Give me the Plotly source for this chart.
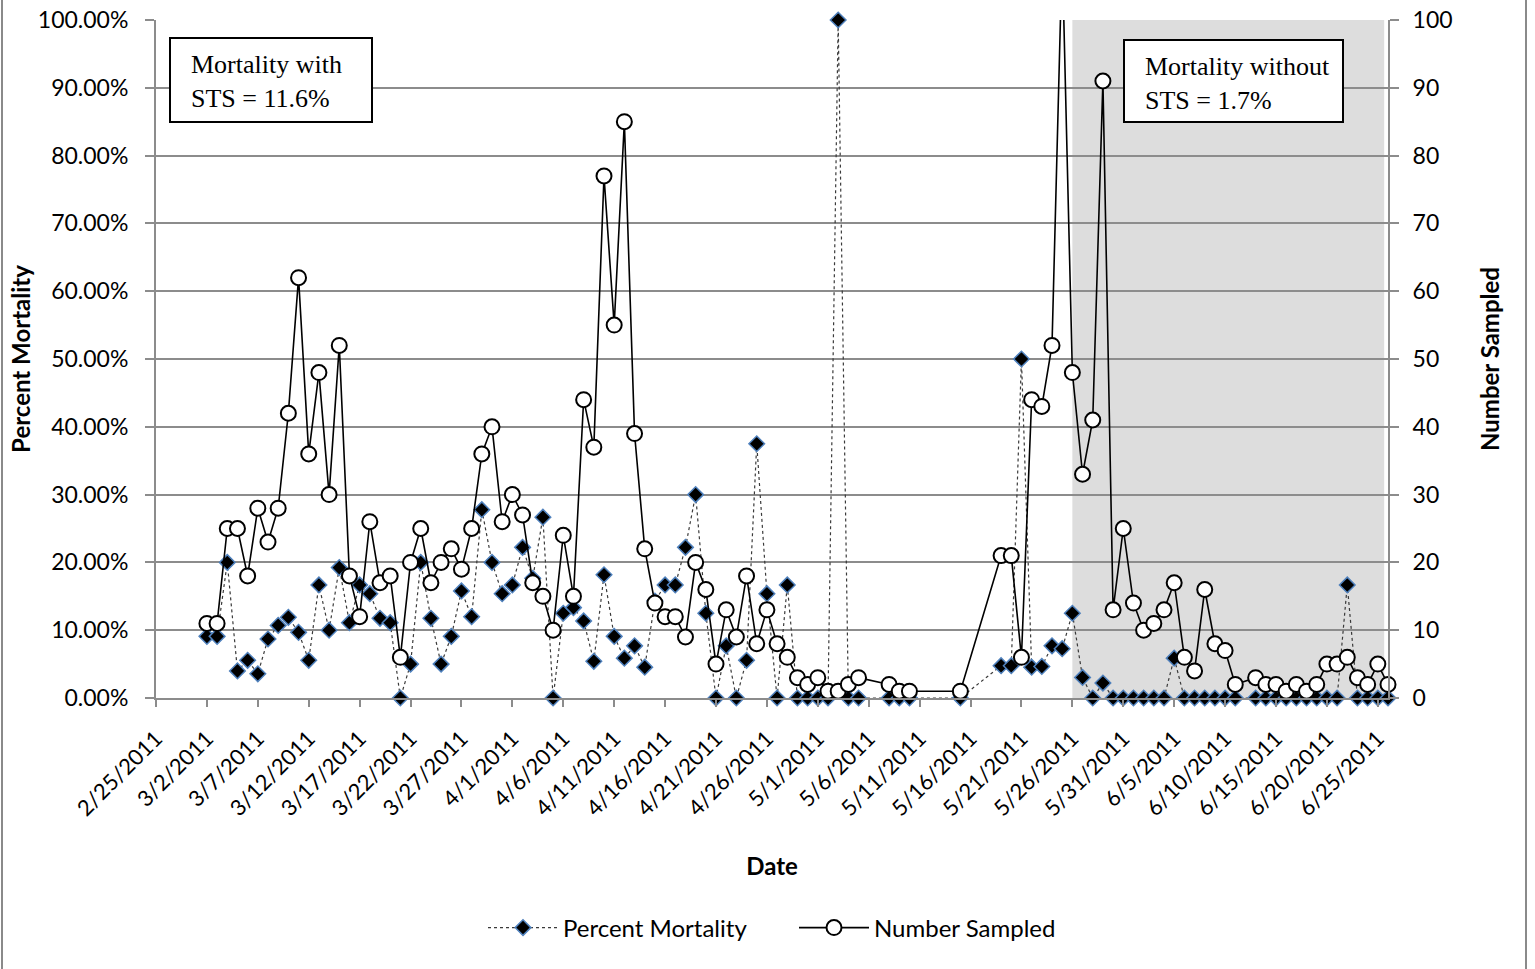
import plotly.graph_objects as go

# ---------------- data ----------------
dates = [
    "2011-03-02", "2011-03-03", "2011-03-04", "2011-03-05", "2011-03-06",
    "2011-03-07", "2011-03-08", "2011-03-09", "2011-03-10", "2011-03-11",
    "2011-03-12", "2011-03-13", "2011-03-14", "2011-03-15", "2011-03-16",
    "2011-03-17", "2011-03-18", "2011-03-19", "2011-03-20", "2011-03-21",
    "2011-03-22", "2011-03-23", "2011-03-24", "2011-03-25", "2011-03-26",
    "2011-03-27", "2011-03-28", "2011-03-29", "2011-03-30", "2011-03-31",
    "2011-04-01", "2011-04-02", "2011-04-03", "2011-04-04", "2011-04-05",
    "2011-04-06", "2011-04-07", "2011-04-08", "2011-04-09", "2011-04-10",
    "2011-04-11", "2011-04-12", "2011-04-13", "2011-04-14", "2011-04-15",
    "2011-04-16", "2011-04-17", "2011-04-18", "2011-04-19", "2011-04-20",
    "2011-04-21", "2011-04-22", "2011-04-23", "2011-04-24", "2011-04-25",
    "2011-04-26", "2011-04-27", "2011-04-28", "2011-04-29", "2011-04-30",
    "2011-05-01", "2011-05-02", "2011-05-03", "2011-05-04", "2011-05-05",
    "2011-05-08", "2011-05-09", "2011-05-10",
    "2011-05-15",
    "2011-05-19", "2011-05-20", "2011-05-21", "2011-05-22", "2011-05-23",
    "2011-05-24", "2011-05-25", "2011-05-26", "2011-05-27", "2011-05-28",
    "2011-05-29", "2011-05-30", "2011-05-31",
    "2011-06-01", "2011-06-02", "2011-06-03", "2011-06-04", "2011-06-05",
    "2011-06-06", "2011-06-07", "2011-06-08", "2011-06-09", "2011-06-10",
    "2011-06-11",
    "2011-06-13", "2011-06-14", "2011-06-15", "2011-06-16", "2011-06-17",
    "2011-06-18", "2011-06-19", "2011-06-20", "2011-06-21", "2011-06-22",
    "2011-06-23", "2011-06-24", "2011-06-25", "2011-06-26",
]

number_sampled = [
    11, 11, 25, 25, 18, 28, 23, 28, 42, 62,
    36, 48, 30, 52, 18, 12, 26, 17, 18, 6,
    20, 25, 17, 20, 22, 19, 25, 36, 40, 26,
    30, 27, 17, 15, 10, 24, 15, 44, 37, 77,
    55, 85, 39, 22, 14, 12, 12, 9, 20, 16,
    5, 13, 9, 18, 8, 13, 8, 6, 3, 2,
    3, 1, 1, 2, 3,
    2, 1, 1,
    1,
    21, 21, 6, 44, 43, 52, 110, 48, 33, 41, 91, 13, 25,
    14, 10, 11, 13, 17, 6, 4, 16, 8, 7, 2,
    3, 2, 2, 1, 2, 1, 2, 5, 5, 6, 3, 2, 5, 2,
]

percent_mortality = [
    9.09, 9.09, 20.0, 4.0, 5.56, 3.57, 8.70, 10.71, 11.90, 9.68,
    5.56, 16.67, 10.0, 19.23, 11.11, 16.67, 15.38, 11.76, 11.11, 0.0,
    5.0, 20.0, 11.76, 5.0, 9.09, 15.79, 12.0, 27.78, 20.0, 15.38,
    16.67, 22.22, 17.65, 26.67, 0.0, 12.5, 13.33, 11.36, 5.41, 18.18,
    9.09, 5.88, 7.69, 4.55, 14.29, 16.67, 16.67, 22.22, 30.0, 12.5,
    0.0, 7.69, 0.0, 5.56, 37.5, 15.38, 0.0, 16.67, 0.0, 0.0,
    0.0, 0.0, 100.0, 0.0, 0.0,
    0.0, 0.0, 0.0,
    0.0,
    4.76, 4.76, 50.0, 4.55, 4.65, 7.69, 7.27, 12.5, 3.03, 0.0, 2.2, 0.0, 0.0,
    0.0, 0.0, 0.0, 0.0, 5.88, 0.0, 0.0, 0.0, 0.0, 0.0, 0.0,
    0.0, 0.0, 0.0, 0.0, 0.0, 0.0, 0.0, 0.0, 0.0, 16.67, 0.0, 0.0, 0.0, 0.0,
]

series_names = ["Percent Mortality", "Number Sampled"]
box_texts = ["Mortality with<br>STS = 11.6%", "Mortality without<br>STS = 1.7%"]
x_range = ["2011-02-25", "2011-06-26"]
shade_range = ["2011-05-26", "2011-06-25 15:00"]

# ---------------- figure ----------------
W, H = 1535, 969
L, R, T, B = 156, 1388, 20, 698
pw, ph = R - L, B - T


def px_x(p):
    return (p - L) / pw


def px_y(p):
    return (B - p) / ph


GRID = "#8c8c8c"
FONT = "Lato"

fig = go.Figure()

fig.add_trace(go.Scatter(
    x=dates, y=percent_mortality, name=series_names[0], mode="lines+markers",
    line=dict(color="#3a3a3a", width=1.2, dash="dot"),
    marker=dict(symbol="diamond", size=12, color="black",
                line=dict(color="#4F81BD", width=1.5)),
    cliponaxis=False, yaxis="y",
))

fig.add_trace(go.Scatter(
    x=dates, y=number_sampled, name=series_names[1], mode="lines+markers",
    line=dict(color="black", width=1.6),
    marker=dict(symbol="circle", size=15, color="white",
                line=dict(color="black", width=2)),
    cliponaxis=False, yaxis="y2",
))

shapes = [
    dict(type="rect", xref="x", yref="paper", x0=shade_range[0], x1=shade_range[1],
         y0=0, y1=1, fillcolor="#DDDDDD", line=dict(width=0), layer="below"),
    dict(type="rect", xref="paper", yref="paper",
         x0=px_x(170), x1=px_x(372), y0=px_y(122), y1=px_y(38),
         fillcolor="white", line=dict(color="black", width=2), layer="above"),
    dict(type="rect", xref="paper", yref="paper",
         x0=px_x(1124), x1=px_x(1343), y0=px_y(122), y1=px_y(40),
         fillcolor="white", line=dict(color="black", width=2), layer="above"),
    # outer chart border
    dict(type="line", xref="paper", yref="paper",
         x0=px_x(2), x1=px_x(2), y0=px_y(969), y1=px_y(0),
         line=dict(color="#8a8a8a", width=2)),
    dict(type="line", xref="paper", yref="paper",
         x0=px_x(1526), x1=px_x(1526), y0=px_y(969), y1=px_y(0),
         line=dict(color="#8a8a8a", width=2)),
]

annotations = [
    dict(xref="paper", yref="paper", x=px_x(189), y=px_y(82), xanchor="left",
         yanchor="middle", align="left", showarrow=False, text=box_texts[0],
         font=dict(family="Liberation Serif", size=26, color="black")),
    dict(xref="paper", yref="paper", x=px_x(1143), y=px_y(83), xanchor="left",
         yanchor="middle", align="left", showarrow=False, text=box_texts[1],
         font=dict(family="Liberation Serif", size=26, color="black")),
]

fig.update_layout(
    width=W, height=H,
    margin=dict(l=L, r=W - R, t=T, b=H - B, pad=0, autoexpand=False),
    paper_bgcolor="white", plot_bgcolor="white",
    font=dict(family=FONT, size=22, color="black"),
    showlegend=True,
    legend=dict(orientation="h", x=px_x(794), xanchor="center", y=px_y(928),
                yanchor="middle", font=dict(family=FONT, size=24, color="black"),
                itemwidth=70, bgcolor="rgba(0,0,0,0)", tracegroupgap=0,
                entrywidth=226, entrywidthmode="pixels"),
    xaxis=dict(
        type="date", range=x_range, tickmode="linear", tick0=x_range[0],
        dtick=5 * 86400000, tickformat="%-m/%-d/%Y", tickangle=-45,
        ticks="outside", ticklen=7, tickwidth=2, tickcolor=GRID,
        showline=True, linecolor=GRID, linewidth=2, showgrid=False,
        zeroline=False, tickfont=dict(family=FONT, size=22),
        ticklabelstandoff=10, automargin=False,
        title=dict(text="Date", standoff=38,
                   font=dict(family=FONT, size=24, weight="bold")),
    ),
    yaxis=dict(
        range=[0, 100], dtick=10, tickformat=".2f", ticksuffix="%",
        ticks="outside", ticklen=9, tickwidth=2, tickcolor=GRID,
        showline=True, linecolor=GRID, linewidth=2,
        showgrid=True, gridcolor=GRID, gridwidth=2, zeroline=False,
        tickfont=dict(family=FONT, size=23), ticklabelstandoff=12,
        automargin=False,
        title=dict(text="Percent Mortality", standoff=0,
                   font=dict(family=FONT, size=24, weight="bold")),
    ),
    yaxis2=dict(
        range=[0, 100], dtick=10, overlaying="y", side="right",
        ticks="outside", ticklen=9, tickwidth=2, tickcolor=GRID,
        showline=True, linecolor=GRID, linewidth=2,
        showgrid=False, zeroline=False,
        tickfont=dict(family=FONT, size=23), ticklabelstandoff=9,
        automargin=False,
        title=dict(text="Number Sampled", standoff=31,
                   font=dict(family=FONT, size=24, weight="bold")),
    ),
    shapes=shapes,
    annotations=annotations,
)

fig.write_html("out.html", config={"displayModeBar": False},
               post_script="document.body.style.margin='0';document.body.style.overflow='hidden';")
